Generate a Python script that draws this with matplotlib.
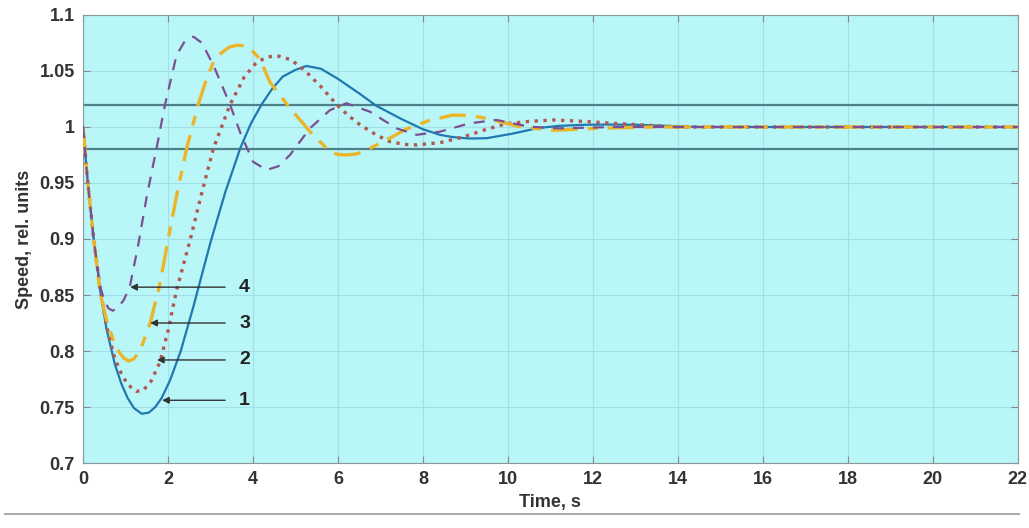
import matplotlib.pyplot as plt
from matplotlib.lines import Line2D

# curve 1 - solid
t1 = [0, 0.1, 0.25, 0.4, 0.55, 0.75, 0.9, 1.05, 1.2, 1.38, 1.55, 1.7, 1.85, 2.05, 2.3, 2.6, 3.0, 3.35, 3.7, 3.95,
      4.2, 4.45, 4.7, 5.0, 5.26, 5.6, 6.0, 6.5, 6.9, 7.5, 8.0, 8.4, 8.7, 9.1, 9.5, 10.1, 10.7, 11.2, 11.8, 12.4,
      13.0, 14.5, 16, 18, 20, 22]
y1 = [1.0, 0.955, 0.9, 0.855, 0.82, 0.788, 0.771, 0.758, 0.749, 0.744, 0.745, 0.75, 0.758, 0.774, 0.8, 0.84,
      0.897, 0.942, 0.981, 1.003, 1.02, 1.034, 1.045, 1.051, 1.0545, 1.052, 1.043, 1.03, 1.019, 1.007, 0.998,
      0.993, 0.991, 0.9897, 0.990, 0.994, 0.999, 1.001, 1.002, 1.0022, 1.002, 1.0, 1.0, 1.0, 1.0, 1.0]

# curve 2 - dotted
t2 = [0, 0.1, 0.25, 0.4, 0.55, 0.75, 0.9, 1.05, 1.26, 1.42, 1.6, 1.81, 2.0, 2.2, 2.52, 2.8, 3.07, 3.46, 3.8, 4.09,
      4.35, 4.56, 4.9, 5.26, 5.6, 5.97, 6.25, 6.52, 6.9, 7.22, 7.55, 7.85, 8.4, 8.94, 9.5, 9.97, 10.5, 11.06, 11.8,
      12.6, 14, 16, 18, 20, 22]
y2 = [1.0, 0.955, 0.9, 0.856, 0.823, 0.793, 0.78, 0.77, 0.764, 0.765, 0.773, 0.790, 0.818, 0.854, 0.899, 0.942,
      0.981, 1.02, 1.045, 1.058, 1.0625, 1.0637, 1.06, 1.049, 1.036, 1.02, 1.01, 1.002, 0.993, 0.987, 0.9845, 0.984,
      0.986, 0.991, 0.998, 1.003, 1.005, 1.0063, 1.005, 1.003, 1.0, 1.0, 1.0, 1.0, 1.0]

# curve 3 - dash-dot
t3 = [0, 0.1, 0.25, 0.4, 0.55, 0.71, 0.85, 0.95, 1.07, 1.2, 1.35, 1.58, 1.8, 2.0, 2.22, 2.44, 2.71, 2.9, 3.07, 3.25,
      3.45, 3.62, 3.8, 3.93, 4.16, 4.4, 4.87, 5.34, 5.81, 6.0, 6.2, 6.45, 6.68, 7.22, 7.6, 8.16, 8.71, 9.1, 9.5,
      10.28, 11.06, 12.2, 13.5, 16, 18, 20, 22]
y3 = [1.0, 0.955, 0.9, 0.852, 0.828, 0.81, 0.799, 0.794, 0.791, 0.793, 0.801, 0.825, 0.858, 0.899, 0.942, 0.981,
      1.02, 1.042, 1.058, 1.066, 1.0715, 1.073, 1.0725, 1.070, 1.061, 1.040, 1.017, 0.996, 0.978, 0.9755, 0.975,
      0.976, 0.9795, 0.990, 0.998, 1.006, 1.0107, 1.0103, 1.0077, 1.0003, 0.997, 0.999, 1.0, 1.0, 1.0, 1.0, 1.0]

# curve 4 - dashed
t4 = [0, 0.1, 0.25, 0.4, 0.5, 0.6, 0.7, 0.8, 0.95, 1.1, 1.3, 1.5, 1.73, 1.93, 2.2, 2.4, 2.6, 2.8, 3.07, 3.46, 3.7,
      4.0, 4.32, 4.6, 4.87, 5.34, 5.81, 6.2, 6.75, 7.38, 7.85, 8.4, 9.1, 9.73, 10.5, 11.2, 12.5, 14, 16, 18, 20, 22]
y4 = [1.0, 0.955, 0.9, 0.858, 0.845, 0.838, 0.836, 0.838, 0.845, 0.857, 0.895, 0.938, 0.981, 1.02, 1.064, 1.077,
      1.0806, 1.075, 1.055, 1.02, 0.995, 0.969, 0.9616, 0.965, 0.975, 0.9988, 1.015, 1.0212, 1.0137, 0.9988, 0.993,
      0.9958, 1.0033, 1.0063, 1.0003, 0.9988, 1.0, 1.0, 1.0, 1.0, 1.0, 1.0]

band = [0.98, 1.02]

labels = ['1', '2', '3', '4']
arrow_heads = [(1.86, 0.756), (1.74, 0.792), (1.58, 0.825), (1.11, 0.857)]
label_x = 3.8

plt.rcParams['font.family'] = ['Liberation Sans', 'DejaVu Sans']

fig = plt.figure(figsize=(10.29, 5.28), dpi=100)
ax = fig.add_axes([0.0807, 0.1231, 0.9083, 0.8485])
ax.set_facecolor('#b9f6f8')

for v in band:
    ax.axhline(v, color='#4d8088', lw=1.6, zorder=2)

ax.plot(t1, y1, '-', color='#1f78b0', lw=1.6, zorder=3)
ax.plot(t2, y2, ':', color='#b0574f', lw=2.4, zorder=3)
ax.plot(t3, y3, '-', color='#ebb52a', lw=2.4, dashes=(8, 3, 3, 3), zorder=3)
ax.plot(t4, y4, '--', color='#7b4f92', lw=1.6, dashes=(5, 4), zorder=3)

for lab, (hx, hy) in zip(labels, arrow_heads):
    ax.annotate(lab, xy=(hx, hy), xytext=(label_x, hy), ha='center', va='center',
                fontsize=14, fontweight='bold', color='#222222',
                arrowprops=dict(arrowstyle='-|>', color='#333333', lw=1.0, mutation_scale=10,
                                shrinkA=8, shrinkB=0), zorder=5)

ax.set_xlim(0, 22)
ax.set_ylim(0.7, 1.1)
ax.set_xticks(range(0, 23, 2))
ax.set_yticks([0.7, 0.75, 0.8, 0.85, 0.9, 0.95, 1.0, 1.05, 1.1])
ax.set_yticklabels(['0.7', '0.75', '0.8', '0.85', '0.9', '0.95', '1', '1.05', '1.1'])
ax.grid(True, color='#a3e0e6', lw=0.8, zorder=1)
ax.set_axisbelow(True)
ax.tick_params(direction='in', length=5, color='#888888', top=True, right=True,
               labelsize=13, labelcolor='#333333', pad=6)
for lbl in ax.get_xticklabels() + ax.get_yticklabels():
    lbl.set_fontweight('bold')
for s in ax.spines.values():
    s.set_color('#8a9a9c')

ax.set_xlabel('Time, s', fontsize=13, fontweight='bold', color='#333333', labelpad=4)
ax.set_ylabel('Speed, rel. units', fontsize=13, fontweight='bold', color='#333333', labelpad=5)

fig.add_artist(Line2D([0.005, 0.99], [0.027, 0.027], color='#9a9a9a', lw=1.2, transform=fig.transFigure))

fig.savefig('out.png', dpi=100)
